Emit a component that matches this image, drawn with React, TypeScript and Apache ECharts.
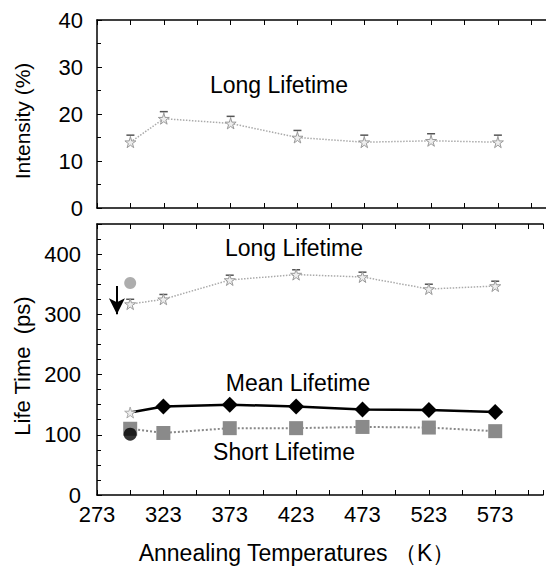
import React, { useEffect, useRef } from "react";
import * as echarts from "echarts";

const temps = [298, 323, 373, 423, 473, 523, 573];
const intensityLong = [14, 19, 18, 15, 14, 14.3, 14];
const intensityErr = [1.5, 1.5, 1.5, 1.5, 1.5, 1.5, 1.5];
const lifeLong = [317, 325, 357, 366, 362, 342, 347];
const lifeLongErr = [8, 8, 8, 8, 8, 8, 8];
const lifeMean = [137, 147, 150, 147, 142, 141, 138];
const lifeShort = [110, 103, 111, 111, 113, 112, 106];
const extraLongPoint = [[298, 352]];
const extraShortPoint = [[298, 101]];
const arrowFrom = [288, 347];
const arrowTo = [288, 300];
const xTickLabels = [273, 323, 373, 423, 473, 523, 573];

const FONT = "Liberation Sans, Arial, sans-serif";
const STAR = "path://M50,0 L61,35 L98,35 L68,57 L79,91 L50,70 L21,91 L32,57 L2,35 L39,35 Z";

const X_MIN = 273;
const X_MAX = 609;

function errRender(params: any, api: any) {
  const x = api.value(0);
  const y = api.value(1);
  const e = api.value(2);
  const p0 = api.coord([x, y]);
  const p1 = api.coord([x, y + e]);
  const style = { stroke: "#555", lineWidth: 1.5 };
  return {
    type: "group",
    children: [
      { type: "line", shape: { x1: p0[0], y1: p0[1] - 5, x2: p1[0], y2: p1[1] }, style: { stroke: "#bbb", lineWidth: 1 } },
      { type: "line", shape: { x1: p1[0] - 4, y1: p1[1], x2: p1[0] + 4, y2: p1[1] }, style },
    ],
  };
}

export default function App() {
  const ref = useRef<HTMLDivElement>(null);
  useEffect(() => {
    document.body.style.margin = "0";
    const chart = echarts.init(ref.current!, null, { renderer: "svg" });
    const axisLine = { show: true, lineStyle: { color: "#000", width: 1.5 } };
    const xCommon = (gridIndex: number, position: "top" | "bottom", labels: boolean) => ({
      type: "value",
      gridIndex,
      position,
      min: X_MIN,
      max: X_MAX,
      interval: 25,
      axisLine,
      axisTick: { show: true, inside: true, length: 5, lineStyle: { color: "#000" } },
      splitLine: { show: false },
      axisLabel: labels
        ? {
            show: true,
            fontSize: 22,
            color: "#000",
            fontFamily: FONT,
            margin: 8,
            formatter: (v: number) => (xTickLabels.includes(v) ? String(v) : ""),
          }
        : { show: false },
    });
    const option: any = {
      animation: false,
      grid: [
        { left: 97, right: 0, top: 20, height: 188 },
        { left: 97, right: 0, top: 224, height: 271 },
      ],
      xAxis: [xCommon(0, "bottom", false), xCommon(0, "top", false), xCommon(1, "bottom", true), xCommon(1, "top", false)],
      yAxis: [
        {
          type: "value",
          gridIndex: 0,
          min: 0,
          max: 40,
          interval: 10,
          axisLine,
          axisTick: { show: true, inside: true, length: 5, lineStyle: { color: "#000" } },
          minorTick: { show: true, splitNumber: 2, length: 4, lineStyle: { color: "#000" } },
          splitLine: { show: false },
          axisLabel: { fontSize: 22, color: "#000", fontFamily: FONT, margin: 14 },
        },
        {
          type: "value",
          gridIndex: 1,
          min: 0,
          max: 450,
          interval: 100,
          axisLine,
          axisTick: { show: true, inside: true, length: 5, lineStyle: { color: "#000" } },
          minorTick: { show: true, splitNumber: 4, length: 4, lineStyle: { color: "#000" } },
          splitLine: { show: false },
          axisLabel: {
            fontSize: 22,
            color: "#000",
            fontFamily: FONT,
            margin: 16,
            formatter: (v: number) => (v % 100 === 0 && v <= 400 ? String(v) : ""),
          },
        },
      ],
      series: [
        {
          type: "line",
          xAxisIndex: 0,
          yAxisIndex: 0,
          data: temps.map((t, i) => [t, intensityLong[i]]),
          lineStyle: { color: "#aaa", type: "dotted", width: 1.5 },
          symbol: STAR,
          symbolSize: 11,
          itemStyle: { color: "#eee", borderColor: "#999", borderWidth: 1 },
        },
        {
          type: "custom",
          xAxisIndex: 0,
          yAxisIndex: 0,
          renderItem: errRender,
          data: temps.map((t, i) => [t, intensityLong[i], intensityErr[i]]),
        },
        {
          type: "line",
          xAxisIndex: 2,
          yAxisIndex: 1,
          data: temps.map((t, i) => [t, lifeLong[i]]),
          lineStyle: { color: "#aaa", type: "dotted", width: 1.5 },
          symbol: STAR,
          symbolSize: 11,
          itemStyle: { color: "#eee", borderColor: "#999", borderWidth: 1 },
          markLine: {
            silent: true,
            symbol: ["none", "arrow"],
            symbolSize: [12, 16],
            label: { show: false },
            lineStyle: { color: "#000", type: "solid", width: 2 },
            data: [[{ coord: arrowFrom }, { coord: arrowTo }]],
          },
        },
        {
          type: "custom",
          xAxisIndex: 2,
          yAxisIndex: 1,
          renderItem: errRender,
          data: temps.map((t, i) => [t, lifeLong[i], lifeLongErr[i]]),
        },
        {
          type: "line",
          xAxisIndex: 2,
          yAxisIndex: 1,
          data: temps.map((t, i) => [t, lifeShort[i]]),
          lineStyle: { color: "#888", type: "dotted", width: 2 },
          symbol: "rect",
          symbolSize: 14,
          itemStyle: { color: "#8a8a8a" },
        },
        {
          type: "line",
          xAxisIndex: 2,
          yAxisIndex: 1,
          data: temps.map((t, i) =>
            i === 0
              ? { value: [t, lifeMean[i]], symbol: STAR, symbolSize: 11, itemStyle: { color: "#eee", borderColor: "#aaa" } }
              : [t, lifeMean[i]]
          ),
          lineStyle: { color: "#000", width: 2.5 },
          symbol: "diamond",
          symbolSize: 16,
          itemStyle: { color: "#000" },
        },
        {
          type: "scatter",
          xAxisIndex: 2,
          yAxisIndex: 1,
          data: extraLongPoint,
          symbol: "circle",
          symbolSize: 12,
          itemStyle: { color: "#999" },
        },
        {
          type: "scatter",
          xAxisIndex: 2,
          yAxisIndex: 1,
          data: extraShortPoint,
          symbol: "circle",
          symbolSize: 13,
          itemStyle: { color: "#000" },
          z: 5,
        },
      ],
      graphic: [
        { type: "text", x: 279, y: 85, style: { text: "Long Lifetime", font: `23px ${FONT}`, fill: "#000", textAlign: "center", textVerticalAlign: "middle" } },
        { type: "text", x: 294, y: 248, style: { text: "Long Lifetime", font: `23px ${FONT}`, fill: "#000", textAlign: "center", textVerticalAlign: "middle" } },
        { type: "text", x: 298, y: 383, style: { text: "Mean Lifetime", font: `23px ${FONT}`, fill: "#000", textAlign: "center", textVerticalAlign: "middle" } },
        { type: "text", x: 284, y: 452, style: { text: "Short Lifetime", font: `23px ${FONT}`, fill: "#000", textAlign: "center", textVerticalAlign: "middle" } },
        { type: "text", x: 22, y: 121, rotation: Math.PI / 2, style: { text: "Intensity (%)", font: `21px ${FONT}`, fill: "#000", textAlign: "center", textVerticalAlign: "middle" } },
        { type: "text", x: 22, y: 366, rotation: Math.PI / 2, style: { text: "Life Time  (ps)", font: `22px ${FONT}`, fill: "#000", textAlign: "center", textVerticalAlign: "middle" } },
        { type: "text", x: 297, y: 553, style: { text: "Annealing Temperatures （K）", font: `23px ${FONT}`, fill: "#000", textAlign: "center", textVerticalAlign: "middle" } },
      ],
    };
    chart.setOption(option);
    return () => chart.dispose();
  }, []);
  return <div ref={ref} style={{ width: 546, height: 567 }} />;
}
